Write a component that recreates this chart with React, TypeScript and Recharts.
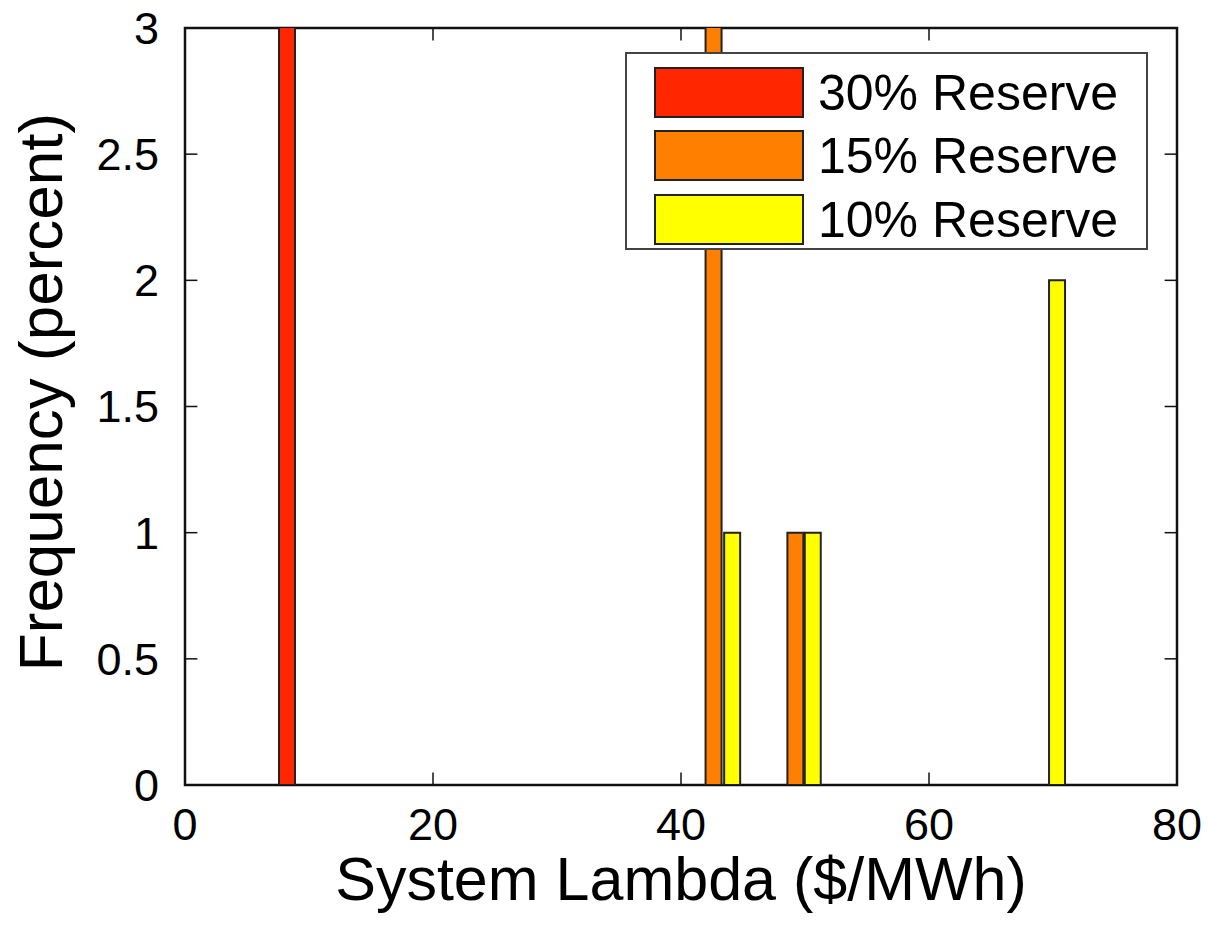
import { ComposedChart, Bar, XAxis, YAxis, Cell, Legend, ReferenceArea, ReferenceLine } from 'recharts';

const seriesNames = ['30% Reserve', '15% Reserve', '10% Reserve'];
const seriesColors = ['#FF2600', '#FF8000', '#FFFF00'];

// bin centres ($/MWh) and frequency (percent) per reserve level
const lambda30 = [8.2];
const freq30 = [96];
const lambda15 = [42.6, 49.2];
const freq15 = [45, 1];
const lambda10 = [44.1, 50.6, 70.3];
const freq10 = [1, 1, 2];

const xTicks = [0, 20, 40, 60, 80];
const yTicks = [0, 0.5, 1, 1.5, 2, 2.5, 3];

const FONT = '"Liberation Sans", Arial, Helvetica, sans-serif';
const AXIS_COLOR = '#111';

const chartData = [
    ...lambda30.map((x, i) => ({ lambda: x, freq: freq30[i], series: 0 })),
    ...lambda15.map((x, i) => ({ lambda: x, freq: freq15[i], series: 1 })),
    ...lambda10.map((x, i) => ({ lambda: x, freq: freq10[i], series: 2 })),
].sort((a, b) => a.lambda - b.lambda);

// inward tick lengths, in data units (about 12px each)
const xTickLen = 0.05;
const yTickLen = 1;

function LegendBox() {
    const rowTops = [16, 79, 143];
    return (
        <svg width={523} height={198} style={{ display: 'block' }}>
            <rect x={1} y={1} width={521} height={196} fill="#fff" stroke="#444" strokeWidth={2} />
            {seriesNames.map((name, i) => (
                <g key={name}>
                    <rect x={30} y={rowTops[i]} width={148} height={49} fill={seriesColors[i]} stroke="#222" strokeWidth={2} />
                    <text
                        x={193}
                        y={rowTops[i] + 25}
                        dominantBaseline="central"
                        fontSize={50}
                        fontFamily={FONT}
                        fill="#000"
                    >
                        {name}
                    </text>
                </g>
            ))}
        </svg>
    );
}

export default function App() {
    return (
        <div style={{ position: 'absolute', left: 0, top: 0, background: '#fff' }}>
            <ComposedChart
                width={1211}
                height={931}
                data={chartData}
                margin={{ top: 28, right: 34, left: 0, bottom: 0 }}
            >
                <XAxis
                    dataKey="lambda"
                    type="number"
                    domain={[0, 80]}
                    ticks={xTicks}
                    height={146}
                    axisLine={false}
                    tickLine={false}
                    tickMargin={17}
                    tick={{ fontSize: 45, fill: '#000', fontFamily: FONT }}
                    label={({ viewBox }: any) => (
                        <text
                            x={viewBox.x + viewBox.width / 2}
                            y={viewBox.y + 115}
                            textAnchor="middle"
                            fontSize={61}
                            fontFamily={FONT}
                            fill="#000"
                        >
                            System Lambda ($/MWh)
                        </text>
                    )}
                />
                <YAxis
                    type="number"
                    domain={[0, 3]}
                    ticks={yTicks}
                    allowDataOverflow
                    width={185}
                    axisLine={false}
                    tickLine={false}
                    tickMargin={20}
                    tick={{ fontSize: 45, fill: '#000', fontFamily: FONT }}
                    label={() => (
                        <text
                            x={62}
                            y={392}
                            transform="rotate(-90, 62, 392)"
                            textAnchor="middle"
                            fontSize={62}
                            fontFamily={FONT}
                            fill="#000"
                        >
                            Frequency (percent)
                        </text>
                    )}
                />
                <Legend
                    layout="horizontal"
                    verticalAlign="middle"
                    align="center"
                    wrapperStyle={{ left: 625, top: 52, width: 523, height: 198 }}
                    content={() => <LegendBox />}
                />
                <Bar dataKey="freq" barSize={16} stroke="#222" strokeWidth={2} isAnimationActive={false}>
                    {chartData.map((entry, index) => (
                        <Cell key={index} fill={seriesColors[entry.series]} />
                    ))}
                </Bar>
                {xTicks.slice(1, -1).map(t => (
                    <ReferenceLine
                        key={`xb${t}`}
                        segment={[{ x: t, y: 0 }, { x: t, y: xTickLen }]}
                        stroke={AXIS_COLOR}
                        strokeWidth={1.5}
                    />
                ))}
                {xTicks.slice(1, -1).map(t => (
                    <ReferenceLine
                        key={`xt${t}`}
                        segment={[{ x: t, y: 3 }, { x: t, y: 3 - xTickLen }]}
                        stroke={AXIS_COLOR}
                        strokeWidth={1.5}
                    />
                ))}
                {yTicks.slice(1, -1).map(t => (
                    <ReferenceLine
                        key={`yl${t}`}
                        segment={[{ x: 0, y: t }, { x: yTickLen, y: t }]}
                        stroke={AXIS_COLOR}
                        strokeWidth={1.5}
                    />
                ))}
                {yTicks.slice(1, -1).map(t => (
                    <ReferenceLine
                        key={`yr${t}`}
                        segment={[{ x: 80, y: t }, { x: 80 - yTickLen, y: t }]}
                        stroke={AXIS_COLOR}
                        strokeWidth={1.5}
                    />
                ))}
                <ReferenceArea
                    x1={0}
                    x2={80}
                    y1={0}
                    y2={3}
                    fill="none"
                    fillOpacity={0}
                    stroke={AXIS_COLOR}
                    strokeWidth={2.5}
                    ifOverflow="visible"
                />
            </ComposedChart>
        </div>
    );
}
